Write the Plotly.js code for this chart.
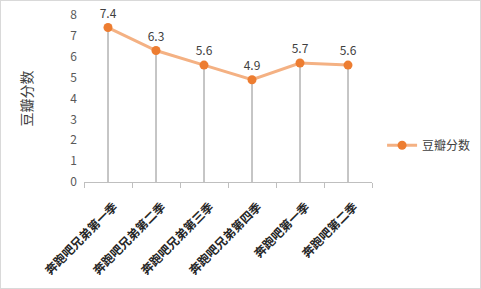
<!DOCTYPE html>
<html>
<head>
<meta charset="utf-8">
<script src="https://cdn.plot.ly/plotly-3.0.1.min.js"></script>
<style>
html,body{margin:0;padding:0;background:#fff;}
#chart{width:479px;height:287px;border:1px solid #d9d9d9;}
</style>
</head>
<body>
<div id="chart"></div>
<script>
const categories = ["奔跑吧兄弟第一季","奔跑吧兄弟第二季","奔跑吧兄弟第三季","奔跑吧兄弟第四季","奔跑吧第一季","奔跑吧第二季"];
const scores = [7.4, 6.3, 5.6, 4.9, 5.7, 5.6];
const seriesName = "豆瓣分数";
const yTickVals = [0,1,2,3,4,5,6,7,8];

const font = "'Microsoft YaHei','Noto Sans CJK SC','Noto Sans',sans-serif";

const trace = {
  type: "scatter",
  mode: "lines+markers+text",
  name: seriesName,
  x: categories,
  y: scores,
  text: scores.map(v => v.toFixed(1)),
  textposition: "top center",
  textfont: {family: font, size: 12, color: "#404040"},
  line: {color: "#f4b183", width: 3},
  marker: {color: "#ed7d31", size: 9},
  error_y: {
    type: "data",
    symmetric: false,
    array: scores.map(() => 0),
    arrayminus: scores,
    color: "#8c8c8c",
    thickness: 1,
    width: 0
  },
  cliponaxis: false
};

const layout = {
  width: 479, height: 287,
  margin: {l: 83, r: 108, t: 14, b: 106, autoexpand: false},
  paper_bgcolor: "#fff",
  plot_bgcolor: "#fff",
  font: {family: font, color: "#595959"},
  showlegend: true,
  legend: {
    x: 1.035, y: 0.22, xanchor: "left", yanchor: "middle",
    font: {family: font, size: 12, color: "#404040"}
  },
  xaxis: {
    type: "category",
    tickangle: -45,
    tickfont: {family: font, size: 12, color: "#262626", weight: "bold"},
    ticklabelshift: 6,
    ticklabelstandoff: 12,
    showline: true, linecolor: "#bfbfbf", linewidth: 1,
    ticks: "outside", tickson: "boundaries", ticklen: 5, tickcolor: "#bfbfbf",
    showgrid: false, zeroline: false,
    automargin: false,
    range: [-0.5, 5.5]
  },
  yaxis: {
    range: [0, 8],
    tickvals: yTickVals,
    tickfont: {family: font, size: 12, color: "#595959"},
    showgrid: false, zeroline: false, showline: false,
    ticks: "", ticklabelstandoff: 6,
    automargin: false,
    title: {text: seriesName, font: {family: font, size: 14, color: "#404040"}, standoff: 34}
  }
};

Plotly.newPlot("chart", [trace], layout, {displayModeBar: false, staticPlot: true});
</script>
</body>
</html>
